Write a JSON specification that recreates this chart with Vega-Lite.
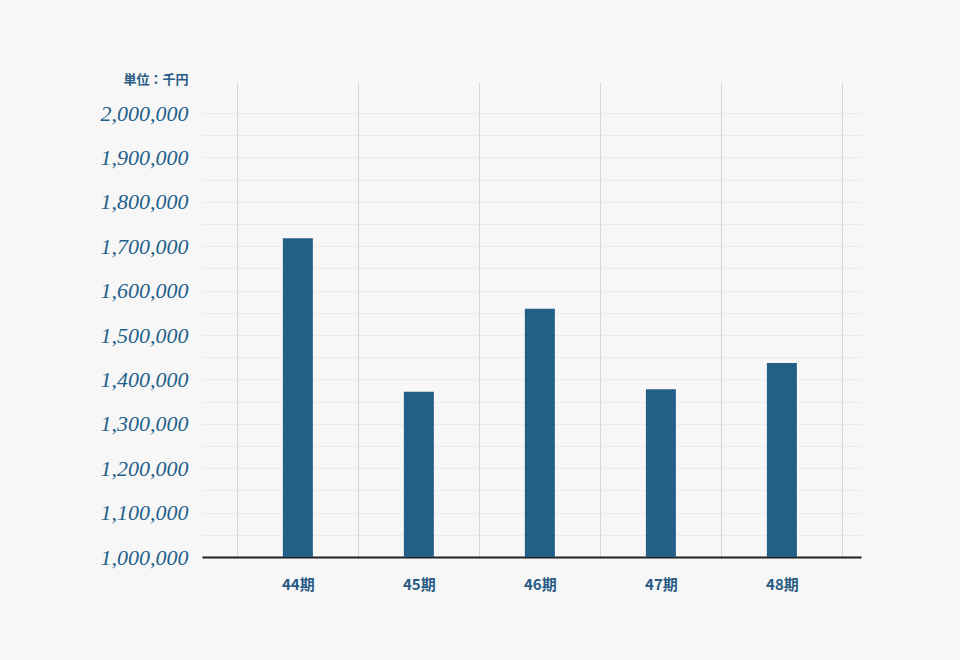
{
  "$schema": "https://vega.github.io/schema/vega-lite/v6.json",
  "width": 659,
  "height": 475,
  "autosize": {"type": "none"},
  "padding": {"left": 202, "top": 82, "right": 99, "bottom": 103},
  "background": "#f7f7f7",
  "data": {"values": [
    {"period": "44期", "value": 1718000},
    {"period": "45期", "value": 1372000},
    {"period": "46期", "value": 1559000},
    {"period": "47期", "value": 1378000},
    {"period": "48期", "value": 1437000}
  ]},
  "mark": {"type": "bar", "width": 30, "color": "#235f87", "clip": true},
  "encoding": {
    "x": {
      "field": "period", "type": "nominal", "sort": null,
      "scale": {"paddingInner": 0, "paddingOuter": 0.223, "align": 0.655},
      "axis": {
        "title": null, "labelAngle": 0, "ticks": false,
        "tickBand": "extent",
        "grid": true, "gridColor": "#d6d6d6", "gridWidth": 1,
        "domainColor": "#222222", "domainWidth": 2,
        "labelFont": "Noto Sans CJK JP", "labelFontWeight": "bold",
        "labelFontSize": 15, "labelColor": "#285b83", "labelPadding": 20
      }
    },
    "y": {
      "field": "value", "type": "quantitative",
      "scale": {"domain": [1000000, 2070000], "nice": false, "zero": false},
      "axis": {
        "values": [1000000, 1050000, 1100000, 1150000, 1200000, 1250000, 1300000, 1350000, 1400000, 1450000, 1500000, 1550000, 1600000, 1650000, 1700000, 1750000, 1800000, 1850000, 1900000, 1950000, 2000000],
        "labelExpr": "datum.value % 100000 == 0 ? format(datum.value, ',') : ''",
        "domain": false, "ticks": false,
        "grid": true, "gridColor": "#dedede", "gridDash": [1, 1], "gridWidth": 1,
        "labelFont": "Liberation Serif", "labelFontStyle": "italic",
        "labelFontSize": 22, "labelColor": "#235f8a", "labelPadding": 14,
        "labelBaseline": "middle",
        "title": "単位：千円", "titleAngle": 0, "titleX": -14, "titleY": -3,
        "titleAlign": "right", "titleBaseline": "middle",
        "titleFont": "Noto Sans CJK JP", "titleFontSize": 13, "titleFontWeight": "bold",
        "titleColor": "#285b83"
      }
    }
  },
  "config": {"view": {"stroke": null}}
}
